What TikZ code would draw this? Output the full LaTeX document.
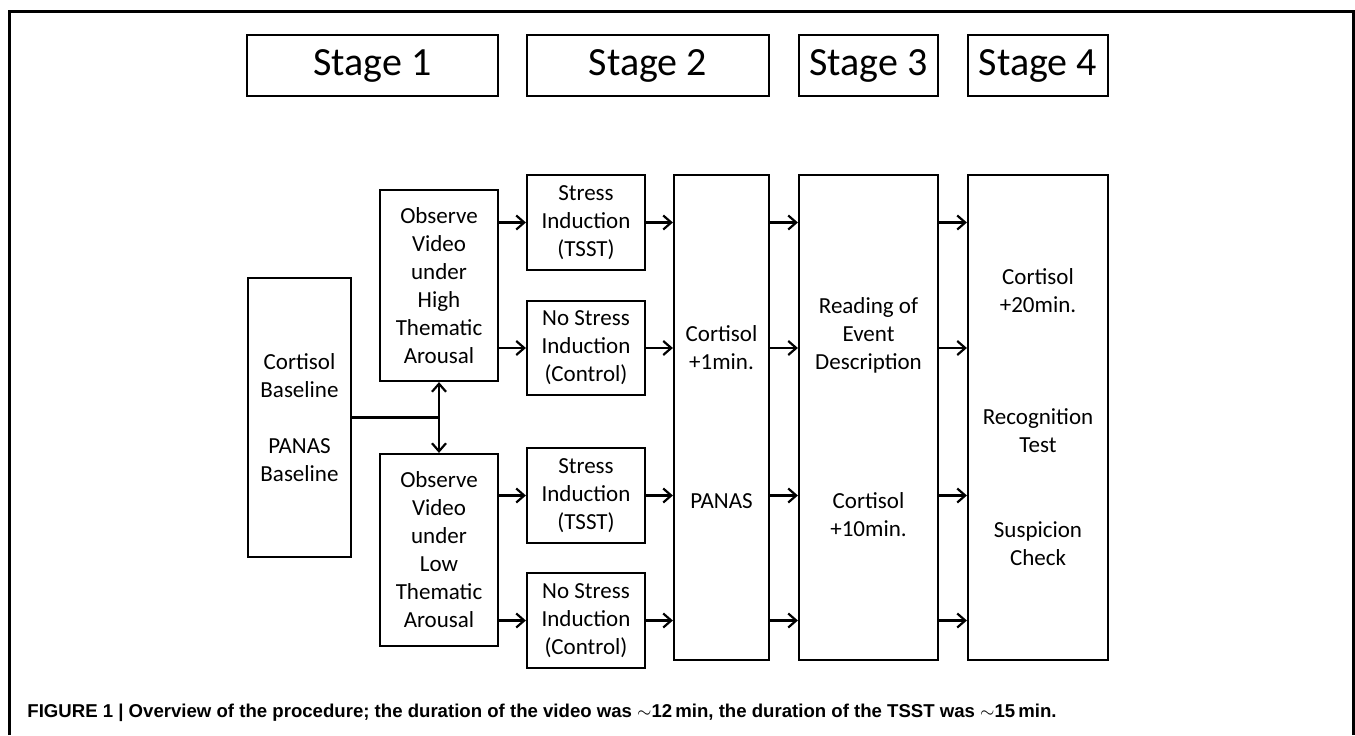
\documentclass[tikz,border=0pt]{standalone}
\usepackage{fontspec}
\setmainfont{Carlito}
\newfontfamily\capfont{Liberation Sans}
\usetikzlibrary{arrows.meta}

\tikzset{
  box/.style={draw, line width=1.1pt, inner sep=0pt, align=center,
    font=\fontsize{11.5}{14}\selectfont},
  stagebox/.style={draw, line width=1.1pt, inner sep=0pt, minimum height=30.5pt,
    font=\fontsize{20}{24}\selectfont},
  arr/.style={-{Straight Barb[length=4pt,width=7pt]}, line width=1.1pt},
}

\begin{document}
\begin{tikzpicture}[x=0.5pt,y=-0.5pt]
    \useasboundingbox (0,0) rectangle (1355,735);
    \draw[line width=1.5pt] (9,735) -- (9,11) -- (1353,11) -- (1353,735);

    \node[stagebox, minimum width=125.5pt] (st1) at (372.5,65.5) {Stage 1};
    \node[stagebox, minimum width=121pt] (st2) at (648,65.5) {Stage 2};
    \node[stagebox, minimum width=69.5pt] (st3) at (868.5,65.5) {Stage 3};
    \node[stagebox, minimum width=70pt] (st4) at (1038,65.5) {Stage 4};

    \node[box, minimum width=51.5pt, minimum height=139.5pt] (base) at (299.5,417.5)
        {Cortisol\\Baseline\\[14pt]PANAS\\Baseline};
    \node[box, minimum width=59pt, minimum height=95.5pt] (hi) at (439,285.5)
        {Observe\\Video\\under\\High\\Thematic\\Arousal};
    \node[box, minimum width=59pt, minimum height=96pt] (lo) at (439,550)
        {Observe\\Video\\under\\Low\\Thematic\\Arousal};

    \node[box, minimum width=59pt, minimum height=47.5pt] (tsst1) at (586,222.5)
        {Stress\\Induction\\(TSST)};
    \node[box, minimum width=59pt, minimum height=47pt] (ctrl1) at (586,348)
        {No Stress\\Induction\\(Control)};
    \node[box, minimum width=59pt, minimum height=47.5pt] (tsst2) at (586,495.5)
        {Stress\\Induction\\(TSST)};
    \node[box, minimum width=59pt, minimum height=47.5pt] (ctrl2) at (586,620.5)
        {No Stress\\Induction\\(Control)};

    \node[box, minimum width=47.5pt, minimum height=242.5pt] (c1) at (721.5,417.5)
        {Cortisol\\+1min.\\[55.5pt]PANAS};
    \node[box, minimum width=69.5pt, minimum height=242.5pt] (rd) at (868.5,417.5)
        {Reading of\\Event\\Description\\[55.5pt]Cortisol\\+10min.};
    \node[box, minimum width=70pt, minimum height=242.5pt] (s4) at (1038,417.5)
        {Cortisol\\+20min.\\[42pt]Recognition\\Test\\[28.5pt]Suspicion\\Check};

    \coordinate (split) at (hi.south |- base.east);
    \draw[line width=1.1pt] (base.east) -- (split);
    \draw[arr] (split) -- (hi.south);
    \draw[arr] (split) -- (lo.north);

    \draw[arr] (hi.east |- tsst1.west) -- (tsst1.west);
    \draw[arr] (hi.east |- ctrl1.west) -- (ctrl1.west);
    \draw[arr] (lo.east |- tsst2.west) -- (tsst2.west);
    \draw[arr] (lo.east |- ctrl2.west) -- (ctrl2.west);
    \foreach \s in {tsst1,ctrl1,tsst2,ctrl2} {
        \draw[arr] (\s.east) -- (c1.west |- \s.east);
        \draw[arr] (c1.east |- \s.east) -- (rd.west |- \s.east);
        \draw[arr] (rd.east |- \s.east) -- (s4.west |- \s.east);
    }

    \node[anchor=west, inner sep=0pt, font=\capfont\bfseries\fontsize{9.3}{11}\selectfont] (cap) at (27,713)
        {FIGURE 1 | Overview of the procedure; the duration of the video was $\sim$12\,min, the duration of the TSST was $\sim$15\,min.};
\end{tikzpicture}
\end{document}
